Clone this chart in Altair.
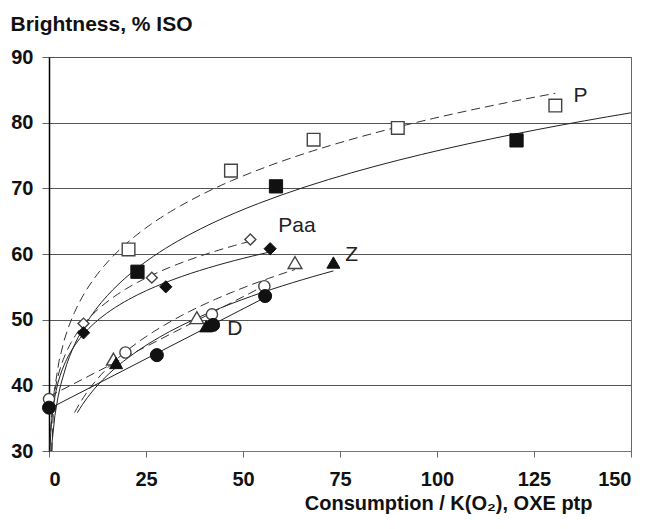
import altair as alt
import pandas as pd

# ---------------- data ----------------
# P : open squares (dashed trend), filled squares (solid trend)
p_open_x = [20.5, 46.9, 68.2, 89.9, 130.5]
p_open_y = [60.7, 72.7, 77.4, 79.2, 82.6]
p_fill_x = [22.8, 58.5, 120.5]
p_fill_y = [57.3, 70.3, 77.3]
# Paa : open / filled diamonds
paa_open_x = [8.9, 26.5, 51.9]
paa_open_y = [49.4, 56.4, 62.2]
paa_fill_x = [8.9, 30.1, 57.0]
paa_fill_y = [48.0, 55.0, 60.8]
# Z : open / filled triangles
z_open_x = [16.6, 38.1, 63.4]
z_open_y = [44.0, 50.3, 58.7]
z_fill_x = [17.3, 40.5, 73.3]
z_fill_y = [43.4, 49.0, 58.7]
# D : open / filled circles
d_open_x = [0.0, 19.7, 42.0, 55.5]
d_open_y = [37.9, 45.0, 50.8, 55.1]
d_fill_x = [0.0, 27.8, 42.3, 55.7]
d_fill_y = [36.6, 44.6, 49.2, 53.6]

# series labels
label_text = ["P", "Paa", "Z", "D"]
label_x = [137.0, 63.9, 78.0, 47.9]
label_y = [84.1, 64.3, 59.9, 48.6]

x_ticks = [0, 25, 50, 75, 100, 125, 150]
y_ticks = [30, 40, 50, 60, 70, 80, 90]

# ---------------- styling ----------------
FONT = "Liberation Sans"

x_axis = alt.Axis(
    values=x_ticks, grid=False, title="Consumption  / K(O\u2082), OXE ptp",
    labelFont=FONT, labelFontSize=20, labelFontWeight="bold", labelColor="#111",
    labelPadding=12, tickSize=6, tickColor="#666", domainColor="#777", domainWidth=1,
    titleFont=FONT, titleFontSize=20, titleFontWeight="bold", titleColor="#111",
    titleX=543, titleY=58, titleAlign="right", titleBaseline="alphabetic",
)
y_axis = alt.Axis(
    values=y_ticks, grid=True, gridColor="#555", gridWidth=1,
    title="Brightness, % ISO",
    labelFont=FONT, labelFontSize=20, labelFontWeight="bold", labelColor="#111",
    labelPadding=9, tickSize=7, tickColor="#666", domainColor="#000", domainWidth=1.5,
    titleFont=FONT, titleFontSize=21, titleFontWeight="bold", titleColor="#111",
    titleAngle=0, titleX=-39, titleY=-27, titleAlign="left", titleBaseline="alphabetic",
)

x_scale = alt.Scale(domain=[0, 150], nice=False, zero=False)
y_scale = alt.Scale(domain=[30, 90], nice=False, zero=False)


def X():
    return alt.X("x:Q", scale=x_scale, axis=x_axis)


def Y():
    return alt.Y("y:Q", scale=y_scale, axis=y_axis)


def trend(xs, ys, method, extent, dashed):
    df = pd.DataFrame({"x": xs, "y": ys})
    ch = alt.Chart(df)
    if method == "pow":
        ch = ch.transform_filter("datum.x > 0")
    ch = ch.transform_regression("x", "y", method=method, extent=extent)
    if dashed:
        m = ch.mark_line(clip=True, color="#333", strokeWidth=1, strokeDash=[9, 5])
    else:
        m = ch.mark_line(clip=True, color="#222", strokeWidth=1)
    return m.encode(x=X(), y=Y())


def points(xs, ys, shape, filled, size):
    df = pd.DataFrame({"x": xs, "y": ys})
    if filled:
        m = alt.Chart(df).mark_point(shape=shape, filled=True, fill="#111", stroke="#111",
                                     strokeWidth=1, size=size, opacity=1)
    else:
        m = alt.Chart(df).mark_point(shape=shape, filled=True, fill="white", stroke="#444",
                                     strokeWidth=1.4, size=size, opacity=1)
    return m.encode(x=X(), y=Y())


lines = [
    trend(p_open_x, p_open_y, "pow", [0.02, 130.5], True),
    trend(p_fill_x, p_fill_y, "pow", [0.02, 150], False),
    trend(paa_open_x, paa_open_y, "pow", [0.02, 51.9], True),
    trend(paa_fill_x, paa_fill_y, "pow", [0.02, 57.0], False),
    trend(z_open_x, z_open_y, "pow", [6.6, 63.4], True),
    trend(z_fill_x, z_fill_y, "pow", [7.3, 73.3], False),
    trend(d_open_x, d_open_y, "linear", [0, 55.5], True),
    trend(d_fill_x, d_fill_y, "linear", [0, 55.7], False),
]

marks = [
    points(p_open_x, p_open_y, "square", False, 160),
    points(p_fill_x, p_fill_y, "square", True, 175),
    points(paa_open_x, paa_open_y, "diamond", False, 120),
    points(paa_fill_x, paa_fill_y, "diamond", True, 150),
    points(z_open_x, z_open_y, "triangle-up", False, 190),
    points(z_fill_x, z_fill_y, "triangle-up", True, 170),
    points(d_open_x, d_open_y, "circle", False, 125),
    points(d_fill_x, d_fill_y, "circle", True, 170),
]

labels_df = pd.DataFrame({"x": label_x, "y": label_y, "label": label_text})
labels = alt.Chart(labels_df).mark_text(
    font=FONT, fontSize=21, color="#222", align="center", baseline="middle"
).encode(x=X(), y=Y(), text="label:N")

chart = alt.layer(*lines, *marks, labels).properties(
    width=582, height=394,
    autosize=alt.AutoSizeParams(type="none"),
    padding={"left": 41, "top": 49, "right": 10, "bottom": 64},
).configure(background="white").configure_view(stroke="#666", strokeWidth=1)

chart.save("out.html", embed_options={"renderer": "svg", "actions": False})
